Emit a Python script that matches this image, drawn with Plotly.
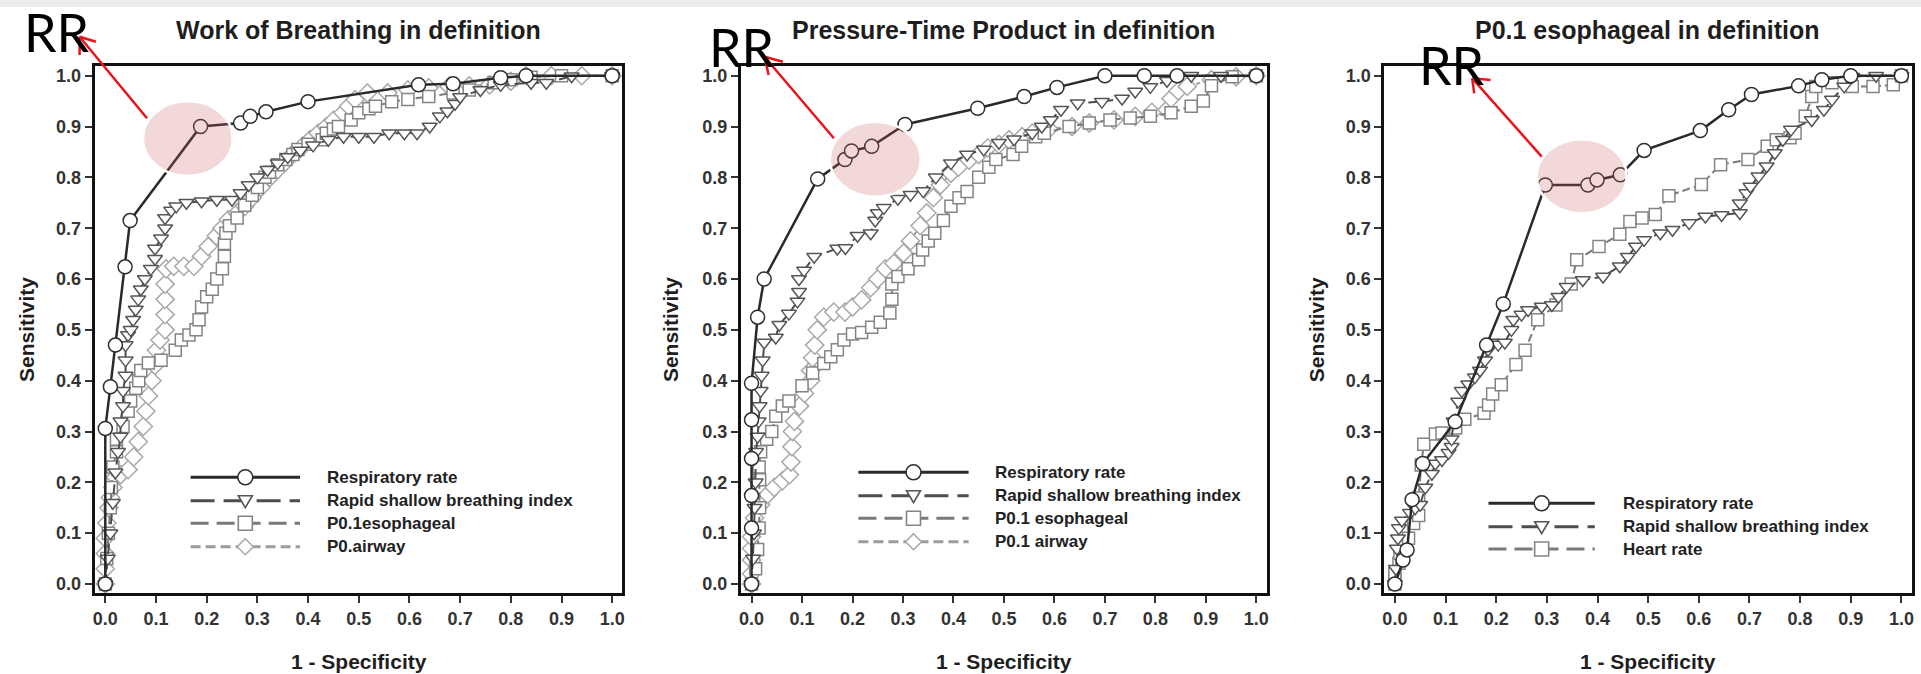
import plotly.graph_objects as go

W, H = 1921, 674

# ---------------- data: (1 - specificity, sensitivity) pairs ----------------
# Panel 1: Work of Breathing in definition
wob_rr_x = [0, 0, 0.01, 0.02, 0.039, 0.049, 0.188, 0.267, 0.286, 0.317, 0.40, 0.618, 0.686, 0.78, 0.83, 1.0]
wob_rr_y = [0, 0.306, 0.388, 0.47, 0.624, 0.715, 0.90, 0.907, 0.92, 0.929, 0.949, 0.982, 0.984, 0.996, 1.0, 1.0]

wob_rsbi_x = [0, 0.005, 0.01, 0.015, 0.02, 0.025, 0.03, 0.03, 0.035, 0.035, 0.04, 0.04, 0.04, 0.045, 0.05, 0.055,
              0.06, 0.065, 0.07, 0.078, 0.09, 0.098, 0.098, 0.11, 0.118, 0.118, 0.13, 0.14, 0.16, 0.19, 0.22, 0.25,
              0.267, 0.283, 0.30, 0.32, 0.34, 0.36, 0.385, 0.41, 0.44, 0.47, 0.50, 0.53, 0.56, 0.59, 0.615, 0.64,
              0.66, 0.675, 0.69, 0.70, 0.74, 0.78, 0.84, 0.87, 0.92, 1.0]
wob_rsbi_y = [0, 0.05, 0.1, 0.16, 0.22, 0.26, 0.29, 0.32, 0.35, 0.38, 0.41, 0.44, 0.47, 0.49, 0.5, 0.52,
              0.54, 0.56, 0.58, 0.6, 0.62, 0.64, 0.66, 0.68, 0.70, 0.72, 0.735, 0.743, 0.75, 0.753, 0.756, 0.756,
              0.769, 0.785, 0.80, 0.815, 0.828, 0.84, 0.853, 0.863, 0.874, 0.88, 0.88, 0.88, 0.887, 0.887, 0.887, 0.90,
              0.92, 0.93, 0.945, 0.958, 0.972, 0.982, 0.986, 0.986, 0.999, 1.0]

wob_eso_x = [0, 0.003, 0.006, 0.01, 0.012, 0.015, 0.022, 0.022, 0.035, 0.045, 0.05, 0.06, 0.066, 0.07, 0.085, 0.11,
             0.138, 0.15, 0.165, 0.179, 0.185, 0.19, 0.20, 0.211, 0.22, 0.231, 0.235, 0.235, 0.238, 0.245, 0.26,
             0.275, 0.29, 0.30, 0.315, 0.324, 0.34, 0.356, 0.37, 0.38, 0.40, 0.428, 0.436, 0.45, 0.46, 0.485, 0.50,
             0.52, 0.533, 0.565, 0.597, 0.638, 0.686, 0.718, 0.767, 0.80, 0.84, 0.9, 1.0]
wob_eso_y = [0, 0.05, 0.1, 0.15, 0.19, 0.23, 0.26, 0.285, 0.31, 0.34, 0.36, 0.385, 0.40, 0.42, 0.435, 0.44,
             0.46, 0.48, 0.49, 0.50, 0.52, 0.545, 0.565, 0.58, 0.60, 0.62, 0.645, 0.67, 0.69, 0.705, 0.72,
             0.745, 0.765, 0.78, 0.80, 0.81, 0.825, 0.835, 0.845, 0.855, 0.865, 0.874, 0.887, 0.895, 0.90, 0.913, 0.927,
             0.935, 0.94, 0.949, 0.953, 0.959, 0.966, 0.972, 0.986, 0.992, 0.997, 1.0, 1.0]

wob_air_x = [0, 0, 0, 0, 0.003, 0.007, 0.01, 0.015, 0.02, 0.03, 0.045, 0.056, 0.065, 0.075, 0.08, 0.085, 0.092,
             0.098, 0.101, 0.108, 0.118, 0.118, 0.118, 0.118, 0.12, 0.135, 0.155, 0.175, 0.19, 0.203, 0.219, 0.23,
             0.243, 0.26, 0.275, 0.29, 0.307, 0.325, 0.34, 0.355, 0.372, 0.39, 0.404, 0.42, 0.436, 0.45, 0.469,
             0.48, 0.493, 0.517, 0.557, 0.597, 0.638, 0.678, 0.718, 0.758, 0.80, 0.83, 0.88, 0.94, 1.0]
wob_air_y = [0, 0.03, 0.06, 0.09, 0.12, 0.15, 0.17, 0.19, 0.21, 0.215, 0.225, 0.25, 0.28, 0.31, 0.34, 0.37, 0.40,
             0.43, 0.46, 0.48, 0.50, 0.53, 0.56, 0.59, 0.62, 0.625, 0.625, 0.625, 0.645, 0.664, 0.685, 0.70,
             0.717, 0.73, 0.743, 0.76, 0.78, 0.80, 0.815, 0.83, 0.848, 0.862, 0.874, 0.887, 0.90, 0.912, 0.927,
             0.94, 0.953, 0.966, 0.966, 0.972, 0.976, 0.979, 0.98, 0.982, 0.989, 1.0, 1.0, 1.0, 1.0]

# Panel 2: Pressure-Time Product in definition
ptp_rr_x = [0, 0, 0, 0, 0, 0, 0.012, 0.025, 0.131, 0.185, 0.198, 0.238, 0.304, 0.448, 0.54, 0.605, 0.70, 0.778,
            0.843, 1.0]
ptp_rr_y = [0, 0.11, 0.174, 0.247, 0.323, 0.395, 0.525, 0.60, 0.797, 0.835, 0.852, 0.861, 0.904, 0.936, 0.959,
            0.977, 1.0, 1.0, 1.0, 1.0]

ptp_rsbi_x = [0, 0.003, 0.005, 0.006, 0.008, 0.009, 0.012, 0.014, 0.016, 0.018, 0.02, 0.022, 0.025, 0.048, 0.055,
              0.074, 0.091, 0.094, 0.094, 0.104, 0.124, 0.17, 0.186, 0.21, 0.236, 0.245, 0.25, 0.262, 0.29, 0.315,
              0.34, 0.365, 0.395, 0.427, 0.46, 0.49, 0.52, 0.556, 0.575, 0.593, 0.613, 0.646, 0.694, 0.734, 0.76,
              0.79, 0.823, 0.871, 0.93, 1.0]
ptp_rsbi_y = [0, 0.05, 0.1, 0.15, 0.2, 0.26, 0.29, 0.32, 0.35, 0.38, 0.41, 0.44, 0.475, 0.485, 0.51,
              0.532, 0.556, 0.575, 0.60, 0.617, 0.644, 0.66, 0.661, 0.685, 0.69, 0.715, 0.73, 0.74, 0.758, 0.766,
              0.773, 0.80, 0.828, 0.845, 0.855, 0.868, 0.875, 0.887, 0.90, 0.913, 0.933, 0.946, 0.949, 0.955, 0.969,
              0.978, 0.99, 1.0, 1.0, 1.0]

ptp_eso_x = [0, 0.008, 0.012, 0.015, 0.016, 0.016, 0.015, 0.018, 0.03, 0.04, 0.048, 0.061, 0.074, 0.1, 0.121,
             0.143, 0.157, 0.17, 0.183, 0.2, 0.218, 0.238, 0.255, 0.274, 0.278, 0.278, 0.29, 0.31, 0.331, 0.339,
             0.35, 0.363, 0.38, 0.395, 0.411, 0.427, 0.45, 0.47, 0.484, 0.518, 0.535, 0.563, 0.58, 0.629, 0.669,
             0.71, 0.75, 0.79, 0.831, 0.871, 0.895, 0.911, 0.952, 1.0]
ptp_eso_y = [0, 0.03, 0.068, 0.11, 0.15, 0.205, 0.23, 0.26, 0.285, 0.30, 0.33, 0.35, 0.36, 0.39, 0.415,
             0.434, 0.447, 0.461, 0.48, 0.492, 0.495, 0.505, 0.515, 0.533, 0.56, 0.59, 0.605, 0.62, 0.638, 0.657,
             0.675, 0.69, 0.715, 0.743, 0.76, 0.772, 0.80, 0.82, 0.835, 0.845, 0.861, 0.88, 0.887, 0.90, 0.907,
             0.913, 0.917, 0.92, 0.927, 0.94, 0.95, 0.98, 0.998, 1.0]

ptp_air_x = [0, 0, 0, 0, 0, 0.006, 0.018, 0.032, 0.045, 0.061, 0.075, 0.078, 0.08, 0.081, 0.085, 0.095, 0.105,
             0.117, 0.117, 0.121, 0.125, 0.13, 0.143, 0.163, 0.185, 0.2, 0.218, 0.236, 0.25, 0.265, 0.282, 0.301,
             0.315, 0.334, 0.347, 0.36, 0.374, 0.395, 0.41, 0.431, 0.45, 0.468, 0.49, 0.51, 0.536, 0.556, 0.589,
             0.635, 0.669, 0.718, 0.76, 0.793, 0.823, 0.831, 0.845, 0.863, 0.911, 0.96, 1.0]
ptp_air_y = [0, 0.02, 0.047, 0.07, 0.093, 0.13, 0.156, 0.176, 0.19, 0.203, 0.215, 0.24, 0.27, 0.30, 0.32, 0.35,
             0.375, 0.40, 0.42, 0.445, 0.47, 0.50, 0.525, 0.535, 0.535, 0.545, 0.559, 0.583, 0.60, 0.62, 0.631,
             0.651, 0.675, 0.705, 0.73, 0.76, 0.785, 0.808, 0.82, 0.834, 0.845, 0.858, 0.865, 0.874, 0.88, 0.887,
             0.895, 0.90, 0.907, 0.913, 0.92, 0.928, 0.933, 0.955, 0.97, 0.979, 0.992, 0.998, 1.0]

# Panel 3: P0.1 esophageal in definition
p01_rr_x = [0, 0.016, 0.024, 0.034, 0.055, 0.119, 0.181, 0.214, 0.297, 0.381, 0.399, 0.445, 0.492, 0.603, 0.659,
            0.704, 0.797, 0.843, 0.9, 1.0]
p01_rr_y = [0, 0.047, 0.067, 0.166, 0.237, 0.319, 0.47, 0.551, 0.785, 0.785, 0.795, 0.805, 0.853, 0.892, 0.933,
            0.963, 0.98, 0.992, 1.0, 1.0]

p01_rsbi_x = [0, 0.002, 0.004, 0.006, 0.008, 0.014, 0.03, 0.04, 0.05, 0.06, 0.073, 0.08, 0.093, 0.106, 0.112,
              0.112, 0.116, 0.125, 0.132, 0.145, 0.158, 0.168, 0.178, 0.184, 0.19, 0.204, 0.217, 0.23, 0.234, 0.25,
              0.263, 0.29, 0.31, 0.323, 0.339, 0.371, 0.411, 0.444, 0.46, 0.476, 0.492, 0.524, 0.548, 0.581, 0.613,
              0.645, 0.681, 0.681, 0.694, 0.702, 0.718, 0.734, 0.75, 0.766, 0.782, 0.823, 0.847, 0.863, 0.887,
              0.903, 0.95, 1.0]
p01_rsbi_y = [0, 0.03, 0.07, 0.09, 0.11, 0.125, 0.14, 0.149, 0.156, 0.19, 0.217, 0.237, 0.244, 0.258, 0.27,
              0.285, 0.32, 0.359, 0.38, 0.393, 0.407, 0.42, 0.44, 0.461, 0.475, 0.471, 0.475, 0.50, 0.52, 0.53,
              0.539, 0.546, 0.549, 0.565, 0.585, 0.598, 0.605, 0.625, 0.644, 0.664, 0.677, 0.69, 0.697, 0.71, 0.723,
              0.726, 0.73, 0.749, 0.769, 0.782, 0.802, 0.822, 0.848, 0.874, 0.894, 0.913, 0.933, 0.953, 0.979,
              0.998, 1.0, 1.0]

p01_hr_x = [0, 0, 0, 0.008, 0.01, 0.027, 0.037, 0.047, 0.047, 0.052, 0.057, 0.08, 0.093, 0.12, 0.138, 0.176,
            0.185, 0.193, 0.21, 0.239, 0.257, 0.282, 0.318, 0.348, 0.359, 0.403, 0.444, 0.464, 0.488, 0.514, 0.541,
            0.605, 0.643, 0.697, 0.735, 0.753, 0.78, 0.79, 0.81, 0.823, 0.831, 0.863, 0.903, 0.944, 0.984, 1.0]
p01_hr_y = [0, 0.01, 0.02, 0.041, 0.06, 0.09, 0.119, 0.135, 0.169, 0.234, 0.275, 0.295, 0.297, 0.307, 0.324,
            0.336, 0.352, 0.374, 0.392, 0.432, 0.46, 0.52, 0.549, 0.59, 0.638, 0.664, 0.688, 0.713, 0.72, 0.727,
            0.764, 0.786, 0.825, 0.835, 0.861, 0.874, 0.878, 0.887, 0.92, 0.959, 0.979, 0.986, 0.979, 0.979,
            0.982, 1.0]

titles = ["Work of Breathing in definition", "Pressure-Time Product in definition", "P0.1 esophageal in definition"]
tick_vals = [0.0, 0.1, 0.2, 0.3, 0.4, 0.5, 0.6, 0.7, 0.8, 0.9, 1.0]
tick_text = ["0.0", "0.1", "0.2", "0.3", "0.4", "0.5", "0.6", "0.7", "0.8", "0.9", "1.0"]

# ---------------- styles ----------------
FONT = "Liberation Sans, Arial, Helvetica, sans-serif"
STYLE = {
    "rr":   dict(symbol="circle", size=14, edge="#2e2e2e", color="#2a2a2a", width=2.5, dash="solid",
                 key_dash="solid"),
    "rsbi": dict(symbol="triangle-down", size=13, edge="#555555", color="#4d4d4d", width=2, dash="10px,5px",
                 key_dash="24px,9px"),
    "eso":  dict(symbol="square", size=12, edge="#848484", color="#7a7a7a", width=2, dash="8px,4px",
                 key_dash="18px,8px"),
    "air":  dict(symbol="diamond", size=14, edge="#a9a9a9", color="#9c9c9c", width=2, dash="4px,3px",
                 key_dash="10px,5px"),
}

panels = [
    dict(series=[("air", wob_air_x, wob_air_y, "P0.airway"),
                 ("eso", wob_eso_x, wob_eso_y, "P0.1esophageal"),
                 ("rsbi", wob_rsbi_x, wob_rsbi_y, "Rapid shallow breathing index"),
                 ("rr", wob_rr_x, wob_rr_y, "Respiratory rate")],
         legend=[("rr", "Respiratory rate"), ("rsbi", "Rapid shallow breathing index"),
                 ("eso", "P0.1esophageal"), ("air", "P0.airway")],
         frame=(94.7, 622.4), leg_x=(190.6, 300.0, 324.5), leg_y=[477.3, 500.7, 523.3, 546.7],
         ylab_x=26.5, rr_label=(23, 32), arrow=((147, 118.3), (79.6, 36.7), (95.9, 41.7), (79.6, 55)),
         ring=(142.9, 232.7, 101, 176)),
    dict(series=[("air", ptp_air_x, ptp_air_y, "P0.1 airway"),
                 ("eso", ptp_eso_x, ptp_eso_y, "P0.1 esophageal"),
                 ("rsbi", ptp_rsbi_x, ptp_rsbi_y, "Rapid shallow breathing index"),
                 ("rr", ptp_rr_x, ptp_rr_y, "Respiratory rate")],
         legend=[("rr", "Respiratory rate"), ("rsbi", "Rapid shallow breathing index"),
                 ("eso", "P0.1 esophageal"), ("air", "P0.1 airway")],
         frame=(741.0, 1266.5), leg_x=(858.4, 968.6, 993.0), leg_y=[472.3, 495.7, 518.3, 541.7],
         ylab_x=670.6, rr_label=(708, 47.5), arrow=((833.9, 138.3), (764.5, 56.7), (782.9, 61.7), (768.6, 75)),
         ring=(829.8, 920.8, 121.7, 196.7)),
    dict(series=[("eso", p01_hr_x, p01_hr_y, "Heart rate"),
                 ("rsbi", p01_rsbi_x, p01_rsbi_y, "Rapid shallow breathing index"),
                 ("rr", p01_rr_x, p01_rr_y, "Respiratory rate")],
         legend=[("rr", "Respiratory rate"), ("rsbi", "Rapid shallow breathing index"), ("eso", "Heart rate")],
         frame=(1384.3, 1911.6), leg_x=(1488.5, 1594.8, 1621.4), leg_y=[503.3, 526.7, 549.0],
         ylab_x=1316.8, rr_label=(1418, 65), arrow=((1541.7, 156.7), (1472.2, 78.3), (1490.5, 80), (1474.2, 93.3)),
         ring=(1536.7, 1626.7, 139.3, 213.3)),
]

FRAME_TOP, FRAME_BOT = 66.0, 593.0
X_RANGE = [-0.0209, 1.0201]
Y_RANGE = [-0.0177, 1.0191]


def fx(px):
    return px / W


def fy(py):
    return 1 - py / H


fig = go.Figure()
shapes, annotations = [], []
layout_axes = {}

# light band along the top edge of the page
shapes.append(dict(type="rect", xref="paper", yref="paper", x0=0, x1=1, y0=fy(7), y1=1,
                   fillcolor="#ececec", line=dict(width=0), layer="below"))

for i, p in enumerate(panels, start=1):
    xa = "x" if i == 1 else f"x{i}"
    ya = "y" if i == 1 else f"y{i}"
    xkey = "xaxis" if i == 1 else f"xaxis{i}"
    ykey = "yaxis" if i == 1 else f"yaxis{i}"
    left, right = p["frame"]

    axis_common = dict(showline=True, mirror=True, linewidth=3, linecolor="#111111",
                       ticks="outside", ticklen=7, tickwidth=1.5, tickcolor="#333333",
                       tickvals=tick_vals, ticktext=tick_text, showgrid=False, zeroline=False,
                       automargin=False,
                       tickfont=dict(family=FONT, size=18, color="#333333", weight="bold"))
    layout_axes[xkey] = dict(axis_common, domain=[fx(left), fx(right)], range=X_RANGE, anchor=ya)
    layout_axes[ykey] = dict(axis_common, domain=[fy(FRAME_BOT), fy(FRAME_TOP)], range=Y_RANGE, anchor=xa)

    for key, xs, ys, name in p["series"]:
        s = STYLE[key]
        fig.add_trace(go.Scatter(
            x=xs, y=ys, mode="lines+markers", name=name, showlegend=False,
            xaxis=xa, yaxis=ya,
            line=dict(color=s["color"], width=s["width"], dash=s["dash"]),
            marker=dict(symbol=s["symbol"], size=s["size"], color="white",
                        line=dict(color=s["edge"], width=1.5)),
        ))

    cx = (left + right) / 2
    annotations.append(dict(text=titles[i - 1], xref="paper", yref="paper", x=fx(cx), y=fy(30),
                            xanchor="center", yanchor="middle", showarrow=False,
                            font=dict(family=FONT, size=25, color="#1e1e1e", weight="bold")))
    annotations.append(dict(text="1 - Specificity", xref="paper", yref="paper", x=fx(cx), y=fy(661),
                            xanchor="center", yanchor="middle", showarrow=False,
                            font=dict(family=FONT, size=21, color="#1e1e1e", weight="bold")))
    annotations.append(dict(text="Sensitivity", xref="paper", yref="paper", x=fx(p["ylab_x"]),
                            y=fy((FRAME_TOP + FRAME_BOT) / 2), textangle=-90,
                            xanchor="center", yanchor="middle", showarrow=False,
                            font=dict(family=FONT, size=21, color="#1e1e1e", weight="bold")))

    # legend block drawn inside the plot area
    lx0, lx1, tx = p["leg_x"]
    mx = (lx0 + lx1) / 2
    for (key, label), ry in zip(p["legend"], p["leg_y"]):
        s = STYLE[key]
        shapes.append(dict(type="line", xref="paper", yref="paper", x0=fx(lx0), x1=fx(lx1),
                           y0=fy(ry), y1=fy(ry), line=dict(color=s["color"], width=3, dash=s["key_dash"])))
        base = dict(xref="paper", yref="paper", xsizemode="pixel", ysizemode="pixel",
                    xanchor=fx(mx), yanchor=fy(ry), fillcolor="white",
                    line=dict(color=s["edge"], width=1.6))
        if key == "rr":
            shapes.append(dict(base, type="circle", x0=-7.5, x1=7.5, y0=-7.5, y1=7.5))
        elif key == "rsbi":
            shapes.append(dict(base, type="path", path="M-7,5 L7,5 L0,-7 Z"))
        elif key == "eso":
            shapes.append(dict(base, type="rect", x0=-7, x1=7, y0=-7, y1=7))
        else:
            shapes.append(dict(base, type="path", path="M0,8 L8,0 L0,-8 L-8,0 Z"))
        annotations.append(dict(text=label, xref="paper", yref="paper", x=fx(tx), y=fy(ry),
                                xanchor="left", yanchor="middle", showarrow=False,
                                font=dict(family=FONT, size=17, color="#222222", weight="bold")))

    # highlight ring around the respiratory-rate operating points
    rx0, rx1, ry0, ry1 = p["ring"]
    shapes.append(dict(type="circle", xref="paper", yref="paper", x0=fx(rx0), x1=fx(rx1),
                       y0=fy(ry1), y1=fy(ry0), fillcolor="rgba(200,90,90,0.24)",
                       line=dict(color="white", width=2.5), layer="above"))

    # red pointer from the ring to the "RR" label
    (sx, sy), (tx_, ty_), (b1x, b1y), (b2x, b2y) = p["arrow"]
    for (ax0, ay0) in [(sx, sy), (b1x, b1y), (b2x, b2y)]:
        shapes.append(dict(type="line", xref="paper", yref="paper", x0=fx(ax0), y0=fy(ay0),
                           x1=fx(tx_), y1=fy(ty_), line=dict(color="#e8141c", width=2.5)))
    lx, ly = p["rr_label"]
    annotations.append(dict(text="RR", xref="paper", yref="paper", x=fx(lx), y=fy(ly),
                            xanchor="left", yanchor="middle", showarrow=False, borderpad=0,
                            font=dict(family="Lato, Carlito, sans-serif", size=52, color="#000000")))

fig.update_layout(
    width=W, height=H,
    margin=dict(l=0, r=0, t=0, b=0),
    paper_bgcolor="white", plot_bgcolor="white",
    showlegend=False,
    shapes=shapes, annotations=annotations,
    **layout_axes,
)

fig.write_html("out.html")
